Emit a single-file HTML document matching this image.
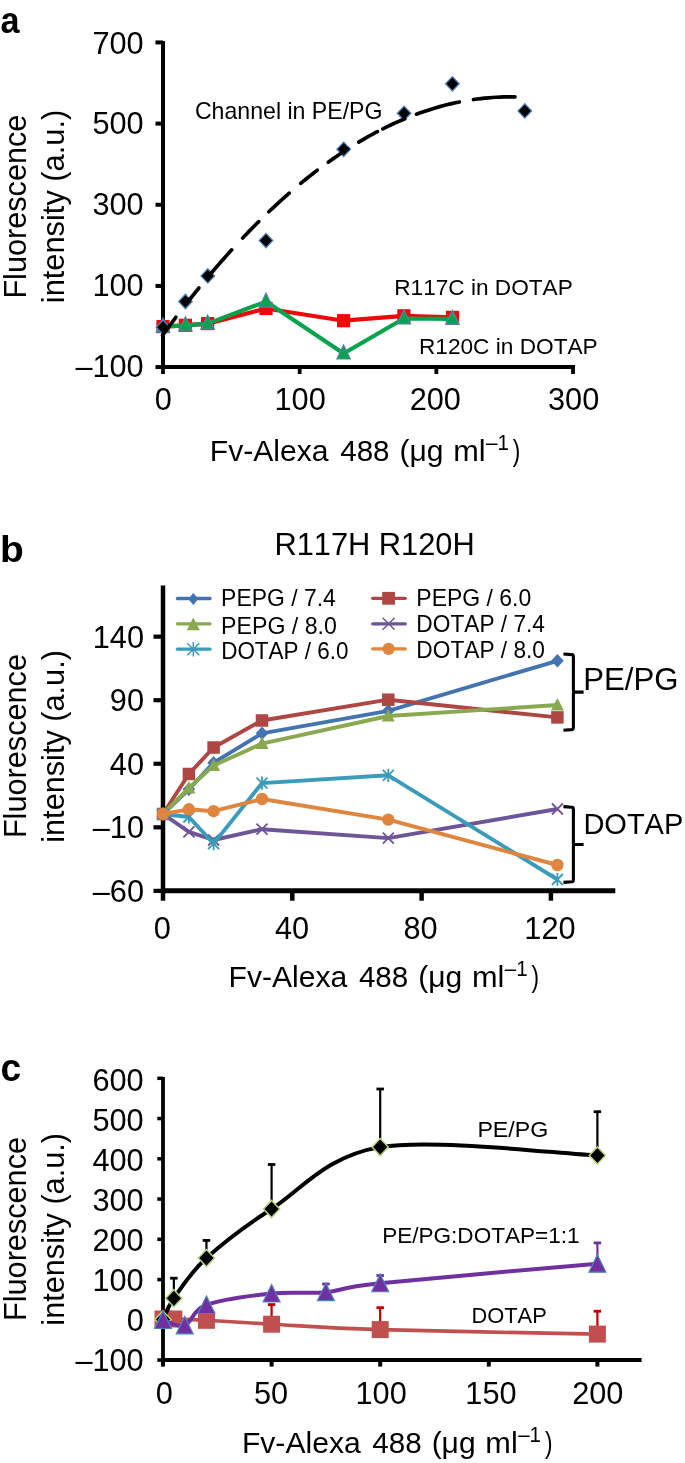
<!DOCTYPE html>
<html><head><meta charset="utf-8"><style>
html,body{margin:0;padding:0;background:#fff;}
svg{display:block;font-family:"Liberation Sans", sans-serif;font-kerning:none;will-change:transform;filter:blur(0.4px);}
text{fill:#000;}
</style></head><body>
<svg width="685" height="1463" viewBox="0 0 685 1463">
<rect width="685" height="1463" fill="#fff"/>
<text x="0.45" y="32.90" font-size="37.4" font-weight="bold" textLength="19.04" lengthAdjust="spacingAndGlyphs" >a</text>
<line x1="163.00" y1="41.00" x2="163.00" y2="369.00" stroke="#000" stroke-width="4" />
<line x1="161.00" y1="367.00" x2="575.00" y2="367.00" stroke="#000" stroke-width="4" />
<line x1="155.50" y1="42.44" x2="163.00" y2="42.44" stroke="#000" stroke-width="4" />
<text x="92.48" y="53.90" font-size="30.7">700</text>
<line x1="155.50" y1="123.60" x2="163.00" y2="123.60" stroke="#000" stroke-width="4" />
<text x="92.48" y="134.20" font-size="30.7">500</text>
<line x1="155.50" y1="204.76" x2="163.00" y2="204.76" stroke="#000" stroke-width="4" />
<text x="92.48" y="215.15" font-size="30.7">300</text>
<line x1="155.50" y1="285.92" x2="163.00" y2="285.92" stroke="#000" stroke-width="4" />
<text x="92.48" y="295.70" font-size="30.7">100</text>
<line x1="155.50" y1="367.08" x2="163.00" y2="367.08" stroke="#000" stroke-width="4" />
<text x="75.40" y="376.50" font-size="30.7">–100</text>
<line x1="163.00" y1="365.00" x2="163.00" y2="374.00" stroke="#000" stroke-width="3.8" />
<text x="154.86" y="409.80" font-size="30.7">0</text>
<line x1="299.67" y1="365.00" x2="299.67" y2="374.00" stroke="#000" stroke-width="3.8" />
<text x="274.52" y="409.80" font-size="30.7">100</text>
<line x1="436.34" y1="365.00" x2="436.34" y2="374.00" stroke="#000" stroke-width="3.8" />
<text x="409.72" y="409.80" font-size="30.7">200</text>
<line x1="573.01" y1="365.00" x2="573.01" y2="374.00" stroke="#000" stroke-width="3.8" />
<text x="548.00" y="409.80" font-size="30.7">300</text>
<text transform="translate(26.20,298.61) rotate(-90)" font-size="30.6" textLength="183.98" lengthAdjust="spacingAndGlyphs">Fluorescence</text>
<text transform="translate(63.50,303.16) rotate(-90)" font-size="30.6" textLength="193.37" lengthAdjust="spacingAndGlyphs">intensity (a.u.)</text>
<text x="209.83" y="461.20" font-size="30.4" font-weight="normal" textLength="118.77" lengthAdjust="spacingAndGlyphs" >Fv-Alexa</text>
<text x="340.22" y="461.20" font-size="30.4" font-weight="normal" textLength="49.36" lengthAdjust="spacingAndGlyphs" >488</text>
<text x="399.54" y="461.20" font-size="30.4" font-weight="normal" textLength="44.00" lengthAdjust="spacingAndGlyphs" >(μg</text>
<text x="453.26" y="461.20" font-size="30.4" font-weight="normal" textLength="32.39" lengthAdjust="spacingAndGlyphs" >ml</text>
<text x="486.10" y="449.80" font-size="21.4" font-weight="normal" textLength="22.80" lengthAdjust="spacingAndGlyphs" >–1</text>
<text x="512.87" y="461.20" font-size="30.4" font-weight="normal" textLength="7.54" lengthAdjust="spacingAndGlyphs" >)</text>
<polyline points="163.00,326.60 185.40,325.30 207.60,323.60 266.00,308.50 343.60,320.70 403.90,315.80 452.50,317.40" fill="none" stroke="#EE0808" stroke-width="4.2" stroke-linejoin="round" />
<rect x="156.40" y="320.00" width="13.20" height="13.20" fill="#EE0808" stroke="none" stroke-width="0"/>
<rect x="178.80" y="318.70" width="13.20" height="13.20" fill="#EE0808" stroke="none" stroke-width="0"/>
<rect x="201.00" y="317.00" width="13.20" height="13.20" fill="#EE0808" stroke="none" stroke-width="0"/>
<rect x="259.40" y="301.90" width="13.20" height="13.20" fill="#EE0808" stroke="none" stroke-width="0"/>
<rect x="337.00" y="314.10" width="13.20" height="13.20" fill="#EE0808" stroke="none" stroke-width="0"/>
<rect x="397.30" y="309.20" width="13.20" height="13.20" fill="#EE0808" stroke="none" stroke-width="0"/>
<rect x="445.90" y="310.80" width="13.20" height="13.20" fill="#EE0808" stroke="none" stroke-width="0"/>
<polyline points="163.00,326.60 185.40,325.30 207.60,323.60 266.00,301.60 343.60,353.50 403.90,318.50 452.50,318.90" fill="none" stroke="#05A34B" stroke-width="4.2" stroke-linejoin="round" />
<polygon points="163.00,318.10 169.75,332.10 156.25,332.10" fill="#05A34B" stroke="#5f7fa8" stroke-width="1.2" stroke-linejoin="miter"/>
<polygon points="185.40,316.80 192.15,330.80 178.65,330.80" fill="#05A34B" stroke="#5f7fa8" stroke-width="1.2" stroke-linejoin="miter"/>
<polygon points="207.60,315.10 214.35,329.10 200.85,329.10" fill="#05A34B" stroke="#5f7fa8" stroke-width="1.2" stroke-linejoin="miter"/>
<polygon points="266.00,293.10 272.75,307.10 259.25,307.10" fill="#05A34B" stroke="#5f7fa8" stroke-width="1.2" stroke-linejoin="miter"/>
<polygon points="343.60,345.00 350.35,359.00 336.85,359.00" fill="#05A34B" stroke="#5f7fa8" stroke-width="1.2" stroke-linejoin="miter"/>
<polygon points="403.90,310.00 410.65,324.00 397.15,324.00" fill="#05A34B" stroke="#5f7fa8" stroke-width="1.2" stroke-linejoin="miter"/>
<polygon points="452.50,310.40 459.25,324.40 445.75,324.40" fill="#05A34B" stroke="#5f7fa8" stroke-width="1.2" stroke-linejoin="miter"/>
<polygon points="163.00,320.10 169.80,327.30 163.00,334.50 156.20,327.30" fill="#000" stroke="#4F81BD" stroke-width="1.3"/>
<polygon points="185.40,294.30 192.20,301.50 185.40,308.70 178.60,301.50" fill="#000" stroke="#4F81BD" stroke-width="1.3"/>
<polygon points="207.80,268.70 214.60,275.90 207.80,283.10 201.00,275.90" fill="#000" stroke="#4F81BD" stroke-width="1.3"/>
<polygon points="266.00,233.40 272.80,240.60 266.00,247.80 259.20,240.60" fill="#000" stroke="#4F81BD" stroke-width="1.3"/>
<polygon points="343.70,142.10 350.50,149.30 343.70,156.50 336.90,149.30" fill="#000" stroke="#4F81BD" stroke-width="1.3"/>
<polygon points="404.10,106.10 410.90,113.30 404.10,120.50 397.30,113.30" fill="#000" stroke="#4F81BD" stroke-width="1.3"/>
<polygon points="452.40,76.60 459.20,83.80 452.40,91.00 445.60,83.80" fill="#000" stroke="#4F81BD" stroke-width="1.3"/>
<polygon points="524.80,103.70 531.60,110.90 524.80,118.10 518.00,110.90" fill="#000" stroke="#4F81BD" stroke-width="1.3"/>
<polyline points="162.50,335.33 163.72,333.66 164.94,332.00 166.15,330.34 167.37,328.69 168.59,327.04 169.81,325.40 171.03,323.77 172.25,322.14 173.46,320.52 174.68,318.91 175.90,317.30" fill="none" stroke="#000" stroke-width="3.7" stroke-linejoin="round" stroke-linecap="round"/>
<polyline points="187.20,302.64 188.26,301.29 189.33,299.94 190.39,298.60 191.45,297.26 192.52,295.92 193.58,294.59 194.65,293.26 195.71,291.94 196.77,290.62 197.84,289.31 198.90,288.00" fill="none" stroke="#000" stroke-width="3.7" stroke-linejoin="round" stroke-linecap="round"/>
<polyline points="209.20,275.56 211.25,273.14 213.29,270.73 215.34,268.34 217.38,265.97 219.43,263.62 221.47,261.28 223.52,258.96 225.56,256.65 227.61,254.36 229.65,252.09 231.70,249.84" fill="none" stroke="#000" stroke-width="3.7" stroke-linejoin="round" stroke-linecap="round"/>
<polyline points="242.70,237.99 244.15,236.46 245.61,234.93 247.06,233.42 248.52,231.91 249.97,230.41 251.43,228.93 252.88,227.44 254.34,225.97 255.79,224.51 257.25,223.05 258.70,221.60" fill="none" stroke="#000" stroke-width="3.7" stroke-linejoin="round" stroke-linecap="round"/>
<polyline points="268.80,211.78 270.65,210.02 272.51,208.28 274.36,206.55 276.22,204.83 278.07,203.12 279.93,201.43 281.78,199.75 283.64,198.09 285.49,196.44 287.35,194.80 289.20,193.18" fill="none" stroke="#000" stroke-width="3.7" stroke-linejoin="round" stroke-linecap="round"/>
<polyline points="300.70,183.41 302.21,182.17 303.72,180.93 305.23,179.71 306.74,178.49 308.25,177.29 309.75,176.09 311.26,174.90 312.77,173.72 314.28,172.55 315.79,171.39 317.30,170.23" fill="none" stroke="#000" stroke-width="3.7" stroke-linejoin="round" stroke-linecap="round"/>
<polyline points="328.20,162.17 329.98,160.90 331.76,159.64 333.55,158.39 335.33,157.16 337.11,155.93 338.89,154.72 340.67,153.53 342.45,152.34 344.24,151.17 346.02,150.01 347.80,148.86" fill="none" stroke="#000" stroke-width="3.7" stroke-linejoin="round" stroke-linecap="round"/>
<polyline points="358.70,142.11 360.41,141.10 362.12,140.09 363.83,139.10 365.54,138.12 367.25,137.15 368.95,136.19 370.66,135.25 372.37,134.31 374.08,133.39 375.79,132.48 377.50,131.58" fill="none" stroke="#000" stroke-width="3.7" stroke-linejoin="round" stroke-linecap="round"/>
<polyline points="382.80,128.86 384.80,127.86 386.80,126.88 388.80,125.91 390.80,124.96 392.80,124.03 394.80,123.11 396.80,122.21 398.80,121.32 400.80,120.45 402.80,119.60 404.80,118.76" fill="none" stroke="#000" stroke-width="3.7" stroke-linejoin="round" stroke-linecap="round"/>
<polyline points="416.40,114.20 420.31,112.79 424.22,111.43 428.13,110.14 432.04,108.90 435.95,107.73 439.85,106.61 443.76,105.56 447.67,104.57 451.58,103.64 455.49,102.76 459.40,101.95" fill="none" stroke="#000" stroke-width="3.7" stroke-linejoin="round" stroke-linecap="round"/>
<polyline points="473.50,99.52 477.27,99.00 481.05,98.54 484.82,98.14 488.59,97.79 492.36,97.50 496.14,97.26 499.91,97.08 503.68,96.96 507.45,96.89 511.23,96.88 515.00,96.93" fill="none" stroke="#000" stroke-width="3.7" stroke-linejoin="round" stroke-linecap="round"/>
<text x="194.93" y="119.00" font-size="23.2" font-weight="normal" textLength="187.60" lengthAdjust="spacingAndGlyphs" >Channel in PE/PG</text>
<text x="394.24" y="294.90" font-size="22.7" font-weight="normal" textLength="178.55" lengthAdjust="spacingAndGlyphs" >R117C in DOTAP</text>
<text x="418.94" y="353.80" font-size="22.6" font-weight="normal" textLength="178.75" lengthAdjust="spacingAndGlyphs" >R120C in DOTAP</text>
<text x="0.04" y="561.70" font-size="37.2" font-weight="bold" textLength="23.76" lengthAdjust="spacingAndGlyphs" >b</text>
<text x="274.47" y="554.70" font-size="30.8" font-weight="normal" textLength="200.24" lengthAdjust="spacingAndGlyphs" >R117H R120H</text>
<line x1="163.00" y1="585.50" x2="163.00" y2="893.00" stroke="#000" stroke-width="4.5" />
<line x1="161.00" y1="890.80" x2="615.30" y2="890.80" stroke="#000" stroke-width="5" />
<line x1="153.50" y1="636.66" x2="163.00" y2="636.66" stroke="#000" stroke-width="4.2" />
<text x="92.78" y="647.66" font-size="30.7">140</text>
<line x1="153.50" y1="700.21" x2="163.00" y2="700.21" stroke="#000" stroke-width="4.2" />
<text x="109.85" y="711.21" font-size="30.7">90</text>
<line x1="153.50" y1="763.76" x2="163.00" y2="763.76" stroke="#000" stroke-width="4.2" />
<text x="109.85" y="774.76" font-size="30.7">40</text>
<line x1="153.50" y1="827.31" x2="163.00" y2="827.31" stroke="#000" stroke-width="4.2" />
<text x="92.78" y="838.31" font-size="30.7">–10</text>
<line x1="153.50" y1="890.86" x2="163.00" y2="890.86" stroke="#000" stroke-width="4.2" />
<text x="92.78" y="901.86" font-size="30.7">–60</text>
<line x1="163.00" y1="889.00" x2="163.00" y2="900.70" stroke="#000" stroke-width="4.5" />
<text x="153.81" y="938.90" font-size="30.7">0</text>
<line x1="292.30" y1="889.00" x2="292.30" y2="900.70" stroke="#000" stroke-width="4.5" />
<text x="274.92" y="938.90" font-size="30.7">40</text>
<line x1="421.60" y1="889.00" x2="421.60" y2="900.70" stroke="#000" stroke-width="4.5" />
<text x="403.51" y="938.90" font-size="30.7">80</text>
<line x1="550.90" y1="889.00" x2="550.90" y2="900.70" stroke="#000" stroke-width="4.5" />
<text x="524.32" y="938.90" font-size="30.7">120</text>
<text transform="translate(26.20,838.12) rotate(-90)" font-size="30.6" textLength="184.08" lengthAdjust="spacingAndGlyphs">Fluorescence</text>
<text transform="translate(63.50,842.75) rotate(-90)" font-size="30.6" textLength="192.65" lengthAdjust="spacingAndGlyphs">intensity (a.u.)</text>
<text x="228.53" y="987.00" font-size="30.4" font-weight="normal" textLength="118.77" lengthAdjust="spacingAndGlyphs" >Fv-Alexa</text>
<text x="358.92" y="987.00" font-size="30.4" font-weight="normal" textLength="49.36" lengthAdjust="spacingAndGlyphs" >488</text>
<text x="418.24" y="987.00" font-size="30.4" font-weight="normal" textLength="44.00" lengthAdjust="spacingAndGlyphs" >(μg</text>
<text x="471.96" y="987.00" font-size="30.4" font-weight="normal" textLength="32.39" lengthAdjust="spacingAndGlyphs" >ml</text>
<text x="504.80" y="975.60" font-size="21.4" font-weight="normal" textLength="22.80" lengthAdjust="spacingAndGlyphs" >–1</text>
<text x="531.57" y="987.00" font-size="30.4" font-weight="normal" textLength="7.54" lengthAdjust="spacingAndGlyphs" >)</text>
<polyline points="163.00,814.00 188.90,789.30 213.60,762.70 262.00,733.30 388.30,710.80 557.40,660.80" fill="none" stroke="#4374B0" stroke-width="3.9" stroke-linejoin="round" />
<polygon points="163.00,807.20 169.30,814.00 163.00,820.80 156.70,814.00" fill="#4374B0" stroke="none" stroke-width="0"/>
<polygon points="188.90,782.50 195.20,789.30 188.90,796.10 182.60,789.30" fill="#4374B0" stroke="none" stroke-width="0"/>
<polygon points="213.60,755.90 219.90,762.70 213.60,769.50 207.30,762.70" fill="#4374B0" stroke="none" stroke-width="0"/>
<polygon points="262.00,726.50 268.30,733.30 262.00,740.10 255.70,733.30" fill="#4374B0" stroke="none" stroke-width="0"/>
<polygon points="388.30,704.00 394.60,710.80 388.30,717.60 382.00,710.80" fill="#4374B0" stroke="none" stroke-width="0"/>
<polygon points="557.40,654.00 563.70,660.80 557.40,667.60 551.10,660.80" fill="#4374B0" stroke="none" stroke-width="0"/>
<polyline points="163.00,814.00 188.90,774.00 213.60,747.50 262.00,720.50 388.30,699.70 557.40,717.40" fill="none" stroke="#AE4643" stroke-width="3.9" stroke-linejoin="round" />
<rect x="156.75" y="807.75" width="12.50" height="12.50" fill="#AE4643" stroke="none" stroke-width="0"/>
<rect x="182.65" y="767.75" width="12.50" height="12.50" fill="#AE4643" stroke="none" stroke-width="0"/>
<rect x="207.35" y="741.25" width="12.50" height="12.50" fill="#AE4643" stroke="none" stroke-width="0"/>
<rect x="255.75" y="714.25" width="12.50" height="12.50" fill="#AE4643" stroke="none" stroke-width="0"/>
<rect x="382.05" y="693.45" width="12.50" height="12.50" fill="#AE4643" stroke="none" stroke-width="0"/>
<rect x="551.15" y="711.15" width="12.50" height="12.50" fill="#AE4643" stroke="none" stroke-width="0"/>
<polyline points="163.00,814.00 188.90,788.00 213.60,765.50 262.00,743.60 388.30,716.00 557.40,705.00" fill="none" stroke="#89A951" stroke-width="3.9" stroke-linejoin="round" />
<polygon points="163.00,807.00 169.50,819.50 156.50,819.50" fill="#89A951" stroke="none" stroke-width="0" stroke-linejoin="miter"/>
<polygon points="188.90,781.00 195.40,793.50 182.40,793.50" fill="#89A951" stroke="none" stroke-width="0" stroke-linejoin="miter"/>
<polygon points="213.60,758.50 220.10,771.00 207.10,771.00" fill="#89A951" stroke="none" stroke-width="0" stroke-linejoin="miter"/>
<polygon points="262.00,736.60 268.50,749.10 255.50,749.10" fill="#89A951" stroke="none" stroke-width="0" stroke-linejoin="miter"/>
<polygon points="388.30,709.00 394.80,721.50 381.80,721.50" fill="#89A951" stroke="none" stroke-width="0" stroke-linejoin="miter"/>
<polygon points="557.40,698.00 563.90,710.50 550.90,710.50" fill="#89A951" stroke="none" stroke-width="0" stroke-linejoin="miter"/>
<polyline points="163.00,814.00 188.90,831.80 213.60,840.00 262.00,829.20 388.30,838.10 557.40,809.00" fill="none" stroke="#6E5598" stroke-width="3.9" stroke-linejoin="round" />
<path d="M157.50,808.50L168.50,819.50M157.50,819.50L168.50,808.50" stroke="#6E5598" stroke-width="1.8" fill="none"/>
<path d="M183.40,826.30L194.40,837.30M183.40,837.30L194.40,826.30" stroke="#6E5598" stroke-width="1.8" fill="none"/>
<path d="M208.10,834.50L219.10,845.50M208.10,845.50L219.10,834.50" stroke="#6E5598" stroke-width="1.8" fill="none"/>
<path d="M256.50,823.70L267.50,834.70M256.50,834.70L267.50,823.70" stroke="#6E5598" stroke-width="1.8" fill="none"/>
<path d="M382.80,832.60L393.80,843.60M382.80,843.60L393.80,832.60" stroke="#6E5598" stroke-width="1.8" fill="none"/>
<path d="M551.90,803.50L562.90,814.50M551.90,814.50L562.90,803.50" stroke="#6E5598" stroke-width="1.8" fill="none"/>
<polyline points="163.00,814.00 188.90,817.00 213.60,843.60 262.00,783.10 388.30,775.30 557.40,879.50" fill="none" stroke="#3A9BBA" stroke-width="3.9" stroke-linejoin="round" />
<path d="M157.50,808.50L168.50,819.50M157.50,819.50L168.50,808.50M163.00,807.40L163.00,820.60" stroke="#3A9BBA" stroke-width="1.8" fill="none"/>
<path d="M183.40,811.50L194.40,822.50M183.40,822.50L194.40,811.50M188.90,810.40L188.90,823.60" stroke="#3A9BBA" stroke-width="1.8" fill="none"/>
<path d="M208.10,838.10L219.10,849.10M208.10,849.10L219.10,838.10M213.60,837.00L213.60,850.20" stroke="#3A9BBA" stroke-width="1.8" fill="none"/>
<path d="M256.50,777.60L267.50,788.60M256.50,788.60L267.50,777.60M262.00,776.50L262.00,789.70" stroke="#3A9BBA" stroke-width="1.8" fill="none"/>
<path d="M382.80,769.80L393.80,780.80M382.80,780.80L393.80,769.80M388.30,768.70L388.30,781.90" stroke="#3A9BBA" stroke-width="1.8" fill="none"/>
<path d="M551.90,874.00L562.90,885.00M551.90,885.00L562.90,874.00M557.40,872.90L557.40,886.10" stroke="#3A9BBA" stroke-width="1.8" fill="none"/>
<polyline points="163.00,814.00 188.90,809.30 213.60,811.20 262.00,799.00 388.30,819.60 557.40,865.00" fill="none" stroke="#E0853D" stroke-width="3.9" stroke-linejoin="round" />
<circle cx="163.00" cy="814.00" r="6.20" fill="#E0853D"/>
<circle cx="188.90" cy="809.30" r="6.20" fill="#E0853D"/>
<circle cx="213.60" cy="811.20" r="6.20" fill="#E0853D"/>
<circle cx="262.00" cy="799.00" r="6.20" fill="#E0853D"/>
<circle cx="388.30" cy="819.60" r="6.20" fill="#E0853D"/>
<circle cx="557.40" cy="865.00" r="6.20" fill="#E0853D"/>
<line x1="177.40" y1="598.50" x2="210.00" y2="598.50" stroke="#4374B0" stroke-width="3.3" stroke-linecap="round"/>
<polygon points="193.30,592.90 198.30,599.00 193.30,605.10 188.30,599.00" fill="#4374B0" stroke="none" stroke-width="0"/>
<text x="221.12" y="606.00" font-size="23.2" font-weight="normal" textLength="114.65" lengthAdjust="spacingAndGlyphs" >PEPG / 7.4</text>
<line x1="177.40" y1="623.80" x2="210.00" y2="623.80" stroke="#89A951" stroke-width="3.3" stroke-linecap="round"/>
<polygon points="193.30,617.50 199.80,630.30 186.80,630.30" fill="#89A951" stroke="none" stroke-width="0" stroke-linejoin="miter"/>
<text x="221.10" y="633.80" font-size="23.2" font-weight="normal" textLength="115.80" lengthAdjust="spacingAndGlyphs" >PEPG / 8.0</text>
<line x1="177.40" y1="649.20" x2="210.00" y2="649.20" stroke="#3A9BBA" stroke-width="3.3" stroke-linecap="round"/>
<path d="M187.30,643.20L199.30,655.20M187.30,655.20L199.30,643.20M193.30,642.00L193.30,656.40" stroke="#3A9BBA" stroke-width="1.5" fill="none"/>
<text x="221.16" y="658.70" font-size="23.2" font-weight="normal" textLength="127.32" lengthAdjust="spacingAndGlyphs" >DOTAP / 6.0</text>
<line x1="372.70" y1="598.30" x2="405.30" y2="598.30" stroke="#AE4643" stroke-width="3.3" stroke-linecap="round"/>
<rect x="382.20" y="591.90" width="12.80" height="12.80" fill="#AE4643" stroke="none" stroke-width="0"/>
<text x="416.31" y="606.00" font-size="23.2" font-weight="normal" textLength="114.98" lengthAdjust="spacingAndGlyphs" >PEPG / 6.0</text>
<line x1="372.70" y1="623.80" x2="405.30" y2="623.80" stroke="#6E5598" stroke-width="3.3" stroke-linecap="round"/>
<path d="M382.60,617.80L394.60,629.80M382.60,629.80L394.60,617.80" stroke="#6E5598" stroke-width="1.5" fill="none"/>
<text x="416.34" y="632.30" font-size="23.2" font-weight="normal" textLength="128.67" lengthAdjust="spacingAndGlyphs" >DOTAP / 7.4</text>
<line x1="372.70" y1="648.90" x2="405.30" y2="648.90" stroke="#E0853D" stroke-width="3.3" stroke-linecap="round"/>
<circle cx="388.60" cy="648.90" r="6.10" fill="#E0853D"/>
<text x="416.34" y="658.30" font-size="23.2" font-weight="normal" textLength="128.67" lengthAdjust="spacingAndGlyphs" >DOTAP / 8.0</text>
<path d="M563.4,654.0 L571.8,654.6 Q573.4,654.8 573.4,656.4 L573.4,690.5 Q573.4,692.1 575.4,692.1 L583.6,692.1 M575.4,692.1 Q573.4,692.1 573.4,693.7 L573.4,727.8000000000001 Q573.4,729.4000000000001 571.8,729.6 L563.4,730.2" stroke="#000" stroke-width="3.1" fill="none"/>
<path d="M563.4,806.6 L571.8,807.2 Q573.4,807.4 573.4,809.0 L573.4,842.9 Q573.4,844.5 575.4,844.5 L583.6,844.5 M575.4,844.5 Q573.4,844.5 573.4,846.1 L573.4,880.0 Q573.4,881.6 571.8,881.8 L563.4,882.4" stroke="#000" stroke-width="3.1" fill="none"/>
<text x="583.25" y="689.80" font-size="30.8" font-weight="normal" textLength="95.18" lengthAdjust="spacingAndGlyphs" >PE/PG</text>
<text x="583.42" y="834.10" font-size="30.0" font-weight="normal" textLength="99.91" lengthAdjust="spacingAndGlyphs" >DOTAP</text>
<text x="0.45" y="1081.20" font-size="38.0" font-weight="bold" textLength="20.64" lengthAdjust="spacingAndGlyphs" >c</text>
<line x1="163.00" y1="1077.00" x2="163.00" y2="1362.00" stroke="#000" stroke-width="3.8" />
<line x1="161.00" y1="1360.00" x2="641.60" y2="1360.00" stroke="#000" stroke-width="3.8" />
<line x1="157.30" y1="1078.30" x2="163.00" y2="1078.30" stroke="#000" stroke-width="3.5" />
<text x="92.48" y="1090.70" font-size="30.7">600</text>
<line x1="157.30" y1="1118.55" x2="163.00" y2="1118.55" stroke="#000" stroke-width="3.5" />
<text x="92.48" y="1130.85" font-size="30.7">500</text>
<line x1="157.30" y1="1158.80" x2="163.00" y2="1158.80" stroke="#000" stroke-width="3.5" />
<text x="92.48" y="1170.85" font-size="30.7">400</text>
<line x1="157.30" y1="1199.05" x2="163.00" y2="1199.05" stroke="#000" stroke-width="3.5" />
<text x="92.48" y="1210.85" font-size="30.7">300</text>
<line x1="157.30" y1="1239.30" x2="163.00" y2="1239.30" stroke="#000" stroke-width="3.5" />
<text x="92.48" y="1251.40" font-size="30.7">200</text>
<line x1="157.30" y1="1279.55" x2="163.00" y2="1279.55" stroke="#000" stroke-width="3.5" />
<text x="92.48" y="1291.15" font-size="30.7">100</text>
<line x1="157.30" y1="1319.80" x2="163.00" y2="1319.80" stroke="#000" stroke-width="3.5" />
<text x="126.63" y="1331.15" font-size="30.7">0</text>
<line x1="157.30" y1="1360.05" x2="163.00" y2="1360.05" stroke="#000" stroke-width="3.5" />
<text x="75.40" y="1371.15" font-size="30.7">–100</text>
<line x1="163.00" y1="1358.00" x2="163.00" y2="1366.60" stroke="#000" stroke-width="4" />
<text x="155.66" y="1404.20" font-size="30.7">0</text>
<line x1="271.60" y1="1358.00" x2="271.60" y2="1366.60" stroke="#000" stroke-width="4" />
<text x="253.96" y="1404.20" font-size="30.7">50</text>
<line x1="380.20" y1="1358.00" x2="380.20" y2="1366.60" stroke="#000" stroke-width="4" />
<text x="355.52" y="1404.20" font-size="30.7">100</text>
<line x1="488.80" y1="1358.00" x2="488.80" y2="1366.60" stroke="#000" stroke-width="4" />
<text x="465.32" y="1404.20" font-size="30.7">150</text>
<line x1="597.40" y1="1358.00" x2="597.40" y2="1366.60" stroke="#000" stroke-width="4" />
<text x="572.22" y="1404.20" font-size="30.7">200</text>
<text transform="translate(26.20,1321.02) rotate(-90)" font-size="30.6" textLength="184.08" lengthAdjust="spacingAndGlyphs">Fluorescence</text>
<text transform="translate(63.50,1325.65) rotate(-90)" font-size="30.6" textLength="192.65" lengthAdjust="spacingAndGlyphs">intensity (a.u.)</text>
<text x="241.93" y="1453.40" font-size="30.4" font-weight="normal" textLength="118.77" lengthAdjust="spacingAndGlyphs" >Fv-Alexa</text>
<text x="372.32" y="1453.40" font-size="30.4" font-weight="normal" textLength="49.36" lengthAdjust="spacingAndGlyphs" >488</text>
<text x="431.64" y="1453.40" font-size="30.4" font-weight="normal" textLength="44.00" lengthAdjust="spacingAndGlyphs" >(μg</text>
<text x="485.36" y="1453.40" font-size="30.4" font-weight="normal" textLength="32.39" lengthAdjust="spacingAndGlyphs" >ml</text>
<text x="518.20" y="1442.00" font-size="21.4" font-weight="normal" textLength="22.80" lengthAdjust="spacingAndGlyphs" >–1</text>
<text x="544.97" y="1453.40" font-size="30.4" font-weight="normal" textLength="7.54" lengthAdjust="spacingAndGlyphs" >)</text>
<line x1="271.60" y1="1324.20" x2="271.60" y2="1304.60" stroke="#C00000" stroke-width="2.2" />
<line x1="267.85" y1="1304.60" x2="275.35" y2="1304.60" stroke="#C00000" stroke-width="2.8000000000000003" />
<line x1="380.20" y1="1329.60" x2="380.20" y2="1307.70" stroke="#C00000" stroke-width="2.2" />
<line x1="376.45" y1="1307.70" x2="383.95" y2="1307.70" stroke="#C00000" stroke-width="2.8000000000000003" />
<line x1="597.40" y1="1334.10" x2="597.40" y2="1311.20" stroke="#C00000" stroke-width="2.2" />
<line x1="593.65" y1="1311.20" x2="601.15" y2="1311.20" stroke="#C00000" stroke-width="2.8000000000000003" />
<path d="M163.00,1319.00 C164.81,1319.00 166.62,1318.78 173.86,1319.00 C181.10,1319.22 190.15,1319.43 206.44,1320.30 C222.73,1321.17 242.64,1322.65 271.60,1324.20 C300.56,1325.75 325.90,1327.95 380.20,1329.60 C434.50,1331.25 561.20,1333.35 597.40,1334.10" stroke="#C0504D" stroke-width="3.6" fill="none"/>
<rect x="154.50" y="1310.50" width="17.00" height="17.00" fill="#C0504D" stroke="none" stroke-width="0"/>
<rect x="165.36" y="1310.50" width="17.00" height="17.00" fill="#C0504D" stroke="none" stroke-width="0"/>
<rect x="197.94" y="1311.80" width="17.00" height="17.00" fill="#C0504D" stroke="none" stroke-width="0"/>
<rect x="263.10" y="1315.70" width="17.00" height="17.00" fill="#C0504D" stroke="none" stroke-width="0"/>
<rect x="371.70" y="1321.10" width="17.00" height="17.00" fill="#C0504D" stroke="none" stroke-width="0"/>
<rect x="588.90" y="1325.60" width="17.00" height="17.00" fill="#C0504D" stroke="none" stroke-width="0"/>
<line x1="173.86" y1="1298.30" x2="173.86" y2="1278.20" stroke="#000" stroke-width="2.2" />
<line x1="170.11" y1="1278.20" x2="177.61" y2="1278.20" stroke="#000" stroke-width="2.8000000000000003" />
<line x1="206.44" y1="1258.10" x2="206.44" y2="1240.40" stroke="#000" stroke-width="2.2" />
<line x1="202.69" y1="1240.40" x2="210.19" y2="1240.40" stroke="#000" stroke-width="2.8000000000000003" />
<line x1="271.60" y1="1209.00" x2="271.60" y2="1164.50" stroke="#000" stroke-width="2.2" />
<line x1="267.85" y1="1164.50" x2="275.35" y2="1164.50" stroke="#000" stroke-width="2.8000000000000003" />
<line x1="380.20" y1="1147.10" x2="380.20" y2="1089.00" stroke="#000" stroke-width="2.2" />
<line x1="376.45" y1="1089.00" x2="383.95" y2="1089.00" stroke="#000" stroke-width="2.8000000000000003" />
<line x1="597.40" y1="1155.50" x2="597.40" y2="1111.70" stroke="#000" stroke-width="2.2" />
<line x1="593.65" y1="1111.70" x2="601.15" y2="1111.70" stroke="#000" stroke-width="2.8000000000000003" />
<path d="M163.00,1319.50 C164.81,1315.97 166.62,1308.53 173.86,1298.30 C181.10,1288.07 190.15,1272.98 206.44,1258.10 C222.73,1243.22 242.64,1227.50 271.60,1209.00 C300.56,1190.50 325.90,1156.02 380.20,1147.10 C434.50,1138.18 561.20,1154.10 597.40,1155.50" stroke="#000" stroke-width="4" fill="none"/>
<polygon points="163.00,1310.90 171.10,1319.50 163.00,1328.10 154.90,1319.50" fill="#000" stroke="#B9D47F" stroke-width="1.5"/>
<polygon points="173.86,1289.70 181.96,1298.30 173.86,1306.90 165.76,1298.30" fill="#000" stroke="#B9D47F" stroke-width="1.5"/>
<polygon points="206.44,1249.50 214.54,1258.10 206.44,1266.70 198.34,1258.10" fill="#000" stroke="#B9D47F" stroke-width="1.5"/>
<polygon points="271.60,1200.40 279.70,1209.00 271.60,1217.60 263.50,1209.00" fill="#000" stroke="#B9D47F" stroke-width="1.5"/>
<polygon points="380.20,1138.50 388.30,1147.10 380.20,1155.70 372.10,1147.10" fill="#000" stroke="#B9D47F" stroke-width="1.5"/>
<polygon points="597.40,1146.90 605.50,1155.50 597.40,1164.10 589.30,1155.50" fill="#000" stroke="#B9D47F" stroke-width="1.5"/>
<line x1="325.90" y1="1292.20" x2="325.90" y2="1284.00" stroke="#7030A0" stroke-width="2.2" />
<line x1="322.15" y1="1284.00" x2="329.65" y2="1284.00" stroke="#7030A0" stroke-width="2.8000000000000003" />
<line x1="380.20" y1="1283.20" x2="380.20" y2="1275.50" stroke="#7030A0" stroke-width="2.2" />
<line x1="376.45" y1="1275.50" x2="383.95" y2="1275.50" stroke="#7030A0" stroke-width="2.8000000000000003" />
<line x1="597.40" y1="1263.70" x2="597.40" y2="1242.90" stroke="#7030A0" stroke-width="2.2" />
<line x1="593.65" y1="1242.90" x2="601.15" y2="1242.90" stroke="#7030A0" stroke-width="2.8000000000000003" />
<path d="M163.00,1320.00 C166.62,1320.90 177.48,1327.90 184.72,1325.40 C191.96,1322.90 191.96,1310.32 206.44,1305.00 C220.92,1299.68 251.69,1295.63 271.60,1293.50 C291.51,1291.37 307.80,1293.92 325.90,1292.20 C344.00,1290.48 334.95,1287.95 380.20,1283.20 C425.45,1278.45 561.20,1266.95 597.40,1263.70" stroke="#7030A0" stroke-width="4" fill="none"/>
<polygon points="163.00,1311.00 171.50,1328.50 154.50,1328.50" fill="#7030A0" stroke="#4F81BD" stroke-width="1.2" stroke-linejoin="miter"/>
<polygon points="184.72,1316.40 193.22,1333.90 176.22,1333.90" fill="#7030A0" stroke="#4F81BD" stroke-width="1.2" stroke-linejoin="miter"/>
<polygon points="206.44,1296.00 214.94,1313.50 197.94,1313.50" fill="#7030A0" stroke="#4F81BD" stroke-width="1.2" stroke-linejoin="miter"/>
<polygon points="271.60,1284.50 280.10,1302.00 263.10,1302.00" fill="#7030A0" stroke="#4F81BD" stroke-width="1.2" stroke-linejoin="miter"/>
<polygon points="325.90,1283.20 334.40,1300.70 317.40,1300.70" fill="#7030A0" stroke="#4F81BD" stroke-width="1.2" stroke-linejoin="miter"/>
<polygon points="380.20,1274.20 388.70,1291.70 371.70,1291.70" fill="#7030A0" stroke="#4F81BD" stroke-width="1.2" stroke-linejoin="miter"/>
<polygon points="597.40,1254.70 605.90,1272.20 588.90,1272.20" fill="#7030A0" stroke="#4F81BD" stroke-width="1.2" stroke-linejoin="miter"/>
<text x="477.40" y="1137.40" font-size="22.5" font-weight="normal" textLength="70.83" lengthAdjust="spacingAndGlyphs" >PE/PG</text>
<text x="382.15" y="1242.70" font-size="22.5" font-weight="normal" textLength="197.45" lengthAdjust="spacingAndGlyphs" >PE/PG:DOTAP=1:1</text>
<text x="471.40" y="1323.10" font-size="22.0" font-weight="normal" textLength="75.45" lengthAdjust="spacingAndGlyphs" >DOTAP</text>
</svg>
</body></html>
